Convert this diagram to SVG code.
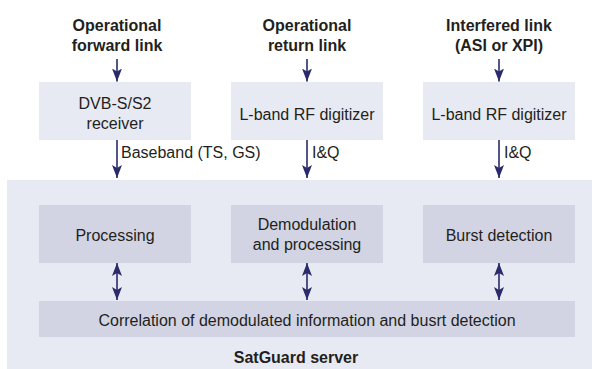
<svg xmlns="http://www.w3.org/2000/svg" width="592" height="369" viewBox="0 0 592 369">
<defs>
<style>
.t{font-family:"Liberation Sans",Arial,sans-serif;font-size:16px;fill:#231f20}
.b{font-weight:bold;text-anchor:middle}
.c{text-anchor:middle}
.top{fill:#e8eaf3}
.srv{fill:#e8eaf3}
.in{fill:#d2d4e4}
.ln{stroke:#2b2a6a;stroke-width:1.6;fill:none}
</style>
<marker id="ah" viewBox="0 0 10 13" refX="5" refY="13" markerWidth="10" markerHeight="13" markerUnits="userSpaceOnUse" orient="auto-start-reverse">
<path d="M0,0 L5,3 L10,0 L5,13 Z" fill="#2b2a6a" transform="rotate(0)"/>
</marker>
<marker id="ad" viewBox="0 0 13 10" refX="13" refY="5" markerWidth="13" markerHeight="10" markerUnits="userSpaceOnUse" orient="auto-start-reverse">
<path d="M0,0 L3,5 L0,10 L13,5 Z" fill="#2b2a6a"/>
</marker>
</defs>
<rect x="0" y="0" width="592" height="369" fill="#ffffff"/>
<g id="server">
<rect class="srv" x="7" y="180" width="585" height="189"/>
<text class="t b" x="296" y="363">SatGuard server</text>
</g>
<g id="label-forward">
<text class="t b" x="117" y="31">Operational</text>
<text class="t b" x="117" y="51">forward link</text>
</g>
<g id="label-return">
<text class="t b" x="307" y="31">Operational</text>
<text class="t b" x="307" y="51">return link</text>
</g>
<g id="label-interfered">
<text class="t b" x="499" y="31">Interfered link</text>
<text class="t b" x="499" y="51">(ASI or XPI)</text>
</g>
<g id="dvb">
<rect class="top" x="39" y="82" width="152" height="58"/>
<text class="t c" x="115" y="109">DVB-S/S2</text>
<text class="t c" x="115" y="129">receiver</text>
</g>
<g id="digitizer1">
<rect class="top" x="231" y="82" width="152" height="58"/>
<text class="t c" x="307" y="120">L-band RF digitizer</text>
</g>
<g id="digitizer2">
<rect class="top" x="423" y="82" width="152" height="58"/>
<text class="t c" x="499" y="120">L-band RF digitizer</text>
</g>
<g id="processing">
<rect class="in" x="39" y="205" width="152" height="58"/>
<text class="t c" x="115" y="241">Processing</text>
</g>
<g id="demod">
<rect class="in" x="231" y="205" width="152" height="58"/>
<text class="t c" x="307" y="230">Demodulation</text>
<text class="t c" x="307" y="250">and processing</text>
</g>
<g id="burst">
<rect class="in" x="423" y="205" width="152" height="58"/>
<text class="t c" x="499" y="241">Burst detection</text>
</g>
<g id="correlation">
<rect class="in" x="39" y="301" width="536" height="36"/>
<text class="t c" x="307" y="326">Correlation of demodulated information and busrt detection</text>
</g>
<g id="connectors">
<line class="ln" x1="117" y1="59" x2="117" y2="81.5" marker-end="url(#ad)"/>
<line class="ln" x1="307" y1="59" x2="307" y2="81.5" marker-end="url(#ad)"/>
<line class="ln" x1="499" y1="59" x2="499" y2="81.5" marker-end="url(#ad)"/>
<line class="ln" x1="117" y1="140" x2="117" y2="178" marker-end="url(#ad)"/>
<line class="ln" x1="307" y1="140" x2="307" y2="178" marker-end="url(#ad)"/>
<line class="ln" x1="499" y1="140" x2="499" y2="178" marker-end="url(#ad)"/>
<line class="ln" x1="117" y1="263" x2="117" y2="300" marker-start="url(#ad)" marker-end="url(#ad)"/>
<line class="ln" x1="307" y1="263" x2="307" y2="300" marker-start="url(#ad)" marker-end="url(#ad)"/>
<line class="ln" x1="499" y1="263" x2="499" y2="300" marker-start="url(#ad)" marker-end="url(#ad)"/>
<text class="t" x="121" y="158">Baseband (TS, GS)</text>
<text class="t" x="312" y="158">I&amp;Q</text>
<text class="t" x="504" y="158">I&amp;Q</text>
</g>
</svg>
